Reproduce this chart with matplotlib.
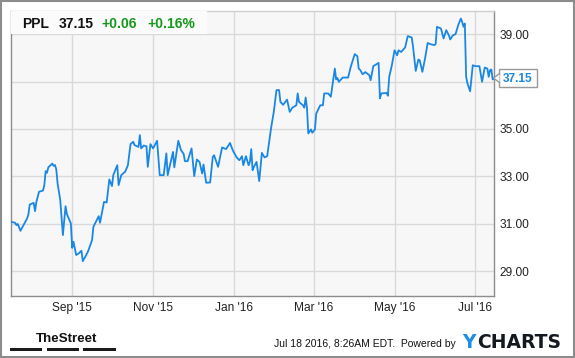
import matplotlib
matplotlib.use("Agg")
import matplotlib.pyplot as plt
import matplotlib.dates as mdates
import matplotlib.patches as patches
from matplotlib.lines import Line2D
import pandas as pd

plt.rcParams['font.family'] = ['Liberation Sans', 'DejaVu Sans']

# PPL closing prices
dates = [
    '2015-07-17', '2015-07-20', '2015-07-21', '2015-07-22', '2015-07-24', '2015-07-29',
    '2015-07-30', '2015-07-31', '2015-08-03', '2015-08-04', '2015-08-05', '2015-08-07',
    '2015-08-10', '2015-08-11', '2015-08-12', '2015-08-13', '2015-08-14', '2015-08-17',
    '2015-08-18', '2015-08-19', '2015-08-20', '2015-08-21', '2015-08-23', '2015-08-25',
    '2015-08-27', '2015-08-28', '2015-08-31', '2015-09-01', '2015-09-02', '2015-09-04',
    '2015-09-06', '2015-09-08', '2015-09-09', '2015-09-11', '2015-09-13', '2015-09-16',
    '2015-09-17', '2015-09-21', '2015-09-22', '2015-09-23', '2015-09-25', '2015-09-27',
    '2015-09-29', '2015-10-01', '2015-10-02', '2015-10-05', '2015-10-06', '2015-10-08',
    '2015-10-11', '2015-10-13', '2015-10-15', '2015-10-17', '2015-10-18', '2015-10-21',
    '2015-10-22', '2015-10-23', '2015-10-25', '2015-10-27', '2015-10-28', '2015-10-30',
    '2015-11-01', '2015-11-04', '2015-11-06', '2015-11-09', '2015-11-11', '2015-11-12',
    '2015-11-16', '2015-11-17', '2015-11-20', '2015-11-22', '2015-11-24', '2015-11-25',
    '2015-11-27', '2015-11-30', '2015-12-02', '2015-12-04', '2015-12-06', '2015-12-08',
    '2015-12-09', '2015-12-11', '2015-12-14', '2015-12-16', '2015-12-17', '2015-12-20',
    '2015-12-23', '2015-12-26', '2015-12-29', '2015-12-31', '2016-01-03', '2016-01-05',
    '2016-01-07', '2016-01-08', '2016-01-10', '2016-01-12', '2016-01-13', '2016-01-14',
    '2016-01-15', '2016-01-16', '2016-01-18', '2016-01-20', '2016-01-22', '2016-01-24',
    '2016-01-26', '2016-01-29', '2016-01-31', '2016-02-02', '2016-02-04', '2016-02-05',
    '2016-02-07', '2016-02-10', '2016-02-12', '2016-02-14', '2016-02-17', '2016-02-18',
    '2016-02-19', '2016-02-22', '2016-02-23', '2016-02-24', '2016-02-25', '2016-02-26',
    '2016-02-28', '2016-02-29', '2016-03-02', '2016-03-03', '2016-03-06', '2016-03-08',
    '2016-03-09', '2016-03-12', '2016-03-14', '2016-03-17', '2016-03-18', '2016-03-19',
    '2016-03-20', '2016-03-23', '2016-03-27', '2016-03-29', '2016-04-01', '2016-04-03',
    '2016-04-04', '2016-04-05', '2016-04-07', '2016-04-09', '2016-04-12', '2016-04-13',
    '2016-04-15', '2016-04-19', '2016-04-20', '2016-04-21', '2016-04-25', '2016-04-26',
    '2016-04-27', '2016-04-29', '2016-05-01', '2016-05-03', '2016-05-04', '2016-05-06',
    '2016-05-09', '2016-05-11', '2016-05-14', '2016-05-15', '2016-05-17', '2016-05-19',
    '2016-05-20', '2016-05-22', '2016-05-24', '2016-05-26', '2016-05-28', '2016-05-31',
    '2016-06-01', '2016-06-02', '2016-06-05', '2016-06-07', '2016-06-09', '2016-06-11',
    '2016-06-12', '2016-06-14', '2016-06-16', '2016-06-18', '2016-06-20', '2016-06-21',
    '2016-06-22', '2016-06-23', '2016-06-24', '2016-06-25', '2016-06-27', '2016-06-29',
    '2016-07-01', '2016-07-04', '2016-07-06', '2016-07-08', '2016-07-10', '2016-07-11',
    '2016-07-12', '2016-07-13', '2016-07-14', '2016-07-15',
]
prices = [
    31.08, 31.04, 30.94, 30.99, 30.70, 31.22,
    31.39, 31.81, 31.88, 31.53, 31.92, 32.35,
    32.40, 32.63, 33.22, 33.15, 33.38, 33.54,
    33.44, 33.48, 33.30, 32.70, 32.00, 30.52,
    31.74, 31.41, 31.01, 29.98, 30.24, 29.68,
    29.75, 29.86, 29.42, 29.62, 29.84, 30.31,
    30.87, 31.32, 31.04, 31.33, 31.92, 31.90,
    32.87, 32.59, 33.05, 33.47, 32.63, 33.05,
    33.20, 33.47, 34.36, 34.46, 34.32, 34.24,
    34.74, 34.18, 34.30, 34.27, 33.40, 34.36,
    34.18, 34.50, 33.05, 33.05, 33.97, 33.05,
    34.03, 33.38, 34.50, 34.11, 33.95, 33.64,
    33.64, 34.18, 33.01, 33.71, 33.61, 33.12,
    33.50, 32.73, 32.74, 33.82, 33.89, 33.40,
    34.22, 34.15, 34.41, 34.11, 33.80, 33.68,
    33.85, 33.47, 33.85, 33.47, 33.61, 34.15,
    33.26, 33.40, 33.61, 32.80, 33.99, 33.80,
    33.85, 35.06, 35.72, 36.64, 36.64, 36.14,
    36.02, 36.24, 35.72, 35.90, 36.00, 36.50,
    36.14, 36.00, 35.90, 36.33, 35.90, 34.81,
    34.98, 34.84, 34.98, 35.65, 36.00, 36.00,
    36.50, 36.50, 36.36, 37.55, 37.09, 37.15,
    36.99, 37.17, 37.17, 37.62, 38.16, 38.07,
    37.55, 37.50, 37.31, 37.40, 37.27, 37.06,
    37.65, 37.79, 36.29, 36.50, 36.52, 36.40,
    37.20, 37.69, 38.32, 38.11, 38.32, 38.25,
    38.44, 38.92, 38.86, 38.46, 37.45, 37.93,
    37.90, 37.41, 37.97, 38.63, 38.58, 38.54,
    38.58, 39.31, 39.24, 38.82, 39.17, 38.95,
    38.78, 38.95, 39.00, 39.38, 39.66, 39.52,
    39.31, 39.45, 37.20, 36.92, 36.59, 37.69,
    37.65, 37.65, 36.99, 37.59, 37.55, 37.20,
    37.48, 37.51, 37.09, 37.15,
]

ticker_name = 'PPL'
last_price = '37.15'
change = '+0.06'
change_pct = '+0.16%'
y_ticks = [29, 31, 33, 35, 37, 39]
x_ticks = ['2015-09-01', '2015-11-01', '2016-01-01', '2016-03-01', '2016-05-01', '2016-07-01']
footer = 'Jul 18 2016, 8:26AM EDT.  Powered by'

W, H = 575, 358
fig = plt.figure(figsize=(W / 100, H / 100), dpi=100)
fig.patch.set_facecolor('white')


def fx(px):
    return px / W


def fy(py):
    return 1 - py / H


ax = fig.add_axes([fx(10.5), fy(296), fx(494) - fx(10.5), fy(10.5) - fy(296)])
ax.set_facecolor('#f7f7f7')

ax.plot(pd.to_datetime(dates), prices, color='#1a87e5', lw=1.3, solid_joinstyle='round', zorder=3)

ax.set_xlim(pd.Timestamp('2015-07-16 12:00'), pd.Timestamp('2016-07-15'))
ax.set_ylim(27.95, 40.0)

ax.set_xticks(pd.to_datetime(x_ticks))
ax.xaxis.set_major_formatter(mdates.DateFormatter("%b '%y"))
ax.set_yticks(y_ticks)
ax.set_yticklabels([f'{v:.2f}' for v in y_ticks])
ax.yaxis.tick_right()
ax.tick_params(axis='both', length=0, labelsize=8.6, labelcolor='#222222')
ax.tick_params(axis='x', pad=4.5)
ax.tick_params(axis='y', pad=4)
ax.grid(True, color='#d9d9d9', lw=1)
ax.set_axisbelow(True)
for side in ['left', 'right', 'bottom']:
    ax.spines[side].set_color('#8c8c8c')
    ax.spines[side].set_linewidth(1)
ax.spines['top'].set_color('#d0d0d0')
ax.spines['top'].set_linewidth(1)

# header with quote
fig.add_artist(patches.Rectangle((fx(10.5), fy(34)), fx(206.7) - fx(10.5), fy(10.5) - fy(34),
                                 transform=fig.transFigure, facecolor='#fbfbfb', edgecolor='none', zorder=2))
base = fy(28.3)
fig.text(fx(21.7), base, ticker_name, fontsize=10, fontweight='bold', color='#111111', va='baseline')
fig.text(fx(58.3), base, last_price, fontsize=10, fontweight='bold', color='#111111', va='baseline')
fig.text(fx(101.7), base, change, fontsize=10, fontweight='bold', color='#13991a', va='baseline')
fig.text(fx(147.3), base, change_pct, fontsize=10, fontweight='bold', color='#13991a', va='baseline')

# last price flag on the right axis
ylast = ax.transData.transform((0, prices[-1]))[1]
yl = H - ylast
fig.add_artist(patches.Rectangle((fx(499), fy(yl + 9)), fx(536.5) - fx(499), fy(yl - 9) - fy(yl + 9),
                                 transform=fig.transFigure, facecolor='white', edgecolor='#999999', lw=1, zorder=4))
fig.add_artist(patches.Polygon([(fx(493.5), fy(yl)), (fx(499.5), fy(yl - 4)), (fx(499.5), fy(yl + 4))],
                               closed=True, transform=fig.transFigure, facecolor='white', edgecolor='none', zorder=5))
fig.add_artist(Line2D([fx(499.5), fx(493.5), fx(499.5)], [fy(yl - 4.5), fy(yl), fy(yl + 4.5)],
                      transform=fig.transFigure, color='#999999', lw=1, zorder=6))
fig.text(fx(517.8), fy(yl + 0.5), last_price, fontsize=8.6, fontweight='bold', color='#1a87e5',
         ha='center', va='center', zorder=7)

# footer
fig.text(fx(36), fy(342), 'TheStreet', fontsize=9.6, fontweight='bold', color='#111111', va='baseline')
for x0, x1 in [(10, 42), (47, 79), (83, 116)]:
    fig.add_artist(patches.Rectangle((fx(x0), fy(351)), fx(x1) - fx(x0), fy(348) - fy(351),
                                     transform=fig.transFigure, facecolor='#1a1a1a', edgecolor='none'))
fig.text(fx(274), fy(347), footer, fontsize=7.5, color='#111111', va='baseline')
fig.text(fx(462), fy(348), 'Y', fontsize=13.5, fontweight='bold', color='#1a8fe3',
         family='DejaVu Sans', va='baseline')
fig.text(fx(477.5), fy(348), 'CHARTS', fontsize=13.5, fontweight='bold', color='#14181f',
         family='DejaVu Sans', va='baseline')

# outer frame
fig.add_artist(patches.Rectangle((0.001, 0.002), 0.997, 0.995, transform=fig.transFigure,
                                 facecolor='none', edgecolor='#8c8c8c', lw=1.5, zorder=10))

fig.savefig('out.png', dpi=100)
